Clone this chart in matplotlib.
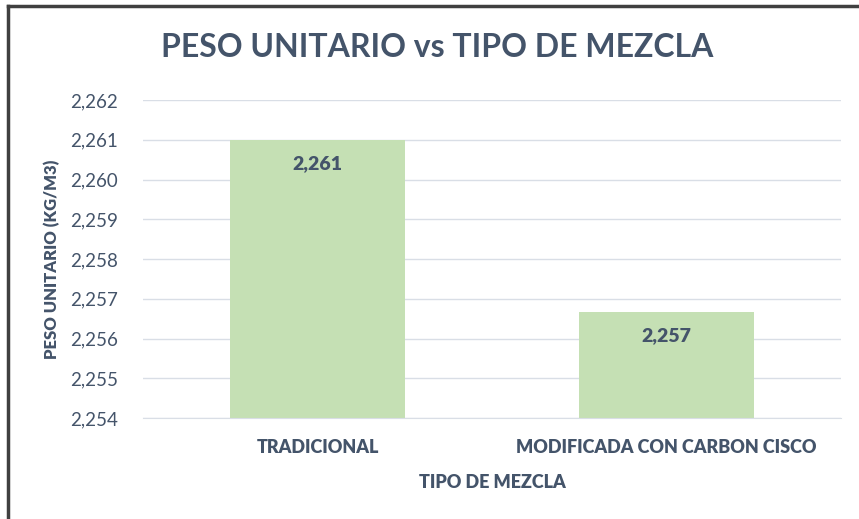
import matplotlib
matplotlib.use("Agg")
import matplotlib.pyplot as plt
from matplotlib.ticker import FuncFormatter, MultipleLocator
from matplotlib.lines import Line2D

# datos
categorias = ["TRADICIONAL", "MODIFICADA CON CARBON CISCO"]
peso_unitario = [2.261, 2.25667]
y_min, y_max = 2.254, 2.262

plt.rcParams["font.family"] = ["Lato", "DejaVu Sans"]

texto = "#44546A"
rejilla = "#D9DEE6"
fig = plt.figure(figsize=(8.59, 5.19), dpi=100)
ax = fig.add_axes([0.1665, 0.1946, 0.8125, 0.6127])

x = range(len(categorias))
barras = ax.bar(x, peso_unitario, width=0.5, color="#C5E0B4", zorder=3)

for b, v in zip(barras, peso_unitario):
    etiqueta = f"{v:.3f}".replace(".", ",")
    ax.annotate(etiqueta, (b.get_x() + b.get_width() / 2, v),
                xytext=(0, -17), textcoords="offset points",
                ha="center", va="center", fontsize=14, fontweight="heavy",
                color=texto, zorder=4)

ax.set_xlim(-0.5, 1.5)
ax.set_ylim(y_min, y_max)
ax.yaxis.set_major_locator(MultipleLocator(0.001))
ax.yaxis.set_major_formatter(FuncFormatter(lambda v, p: f"{v:.3f}".replace(".", ",")))
ax.set_xticks(list(x))
ax.set_xticklabels(categorias, fontsize=13, fontweight="heavy", color=texto)
ax.tick_params(axis="y", labelsize=13.5, labelcolor=texto, length=0, pad=18)
ax.tick_params(axis="x", length=0, pad=15)
ax.grid(axis="y", color=rejilla, linewidth=1, zorder=0)
for s in ax.spines.values():
    s.set_visible(False)
ax.spines["bottom"].set_visible(True)
ax.spines["bottom"].set_color(rejilla)
ax.spines["bottom"].set_zorder(4)

ax.set_xlabel("TIPO DE MEZCLA", fontsize=13, fontweight="heavy", color=texto, labelpad=13)
ax.set_ylabel("PESO UNITARIO (KG/M3)", fontsize=12, fontweight="heavy", color=texto, labelpad=7)

fig.text(0.509, 0.909, "PESO UNITARIO vs TIPO DE MEZCLA", ha="center", va="center",
         fontsize=23, fontweight="bold", color=texto)

# borde de la captura
fig.add_artist(Line2D([0.0095, 1.0], [0.9885, 0.9885], color="#404040", linewidth=2.5))
fig.add_artist(Line2D([0.0095, 0.0095], [0.0, 0.9885], color="#404040", linewidth=2.5))

plt.savefig("out.png", dpi=100)
